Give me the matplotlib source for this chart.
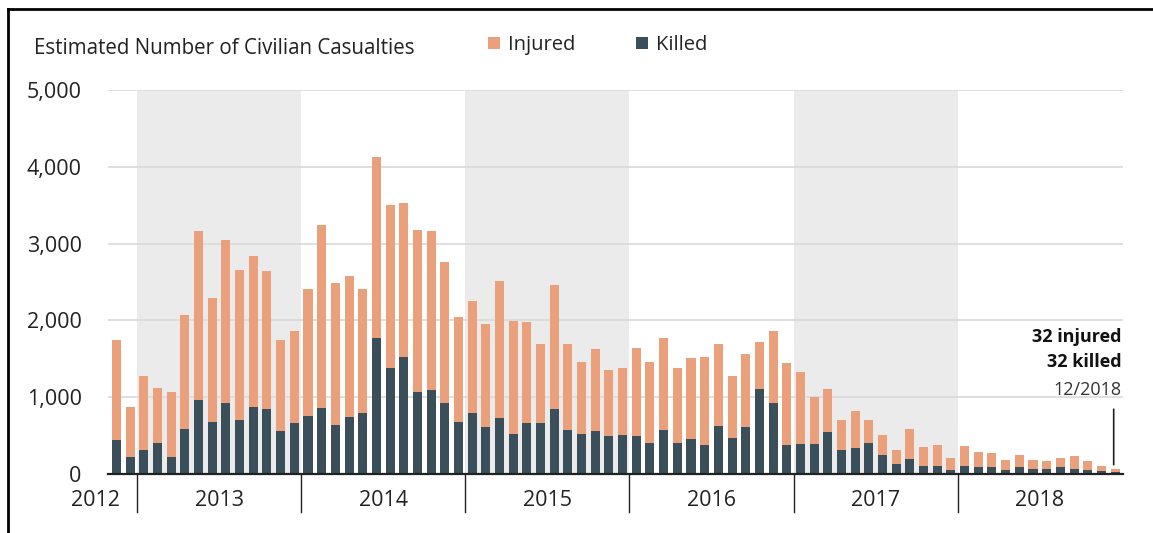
import numpy as np
import matplotlib
matplotlib.use('Agg')
import matplotlib.pyplot as plt
from matplotlib.lines import Line2D
import matplotlib.transforms as mtransforms

plt.rcParams['font.family'] = ['Open Sans', 'DejaVu Sans']

# monthly data, Nov 2012 .. Dec 2018
months = [('%02d/%d' % (m, y)) for y in range(2012, 2019) for m in range(1, 13)][10:]

total = [1740, 872,
         1276, 1124, 1072, 2075, 3160, 2292, 3042, 2660, 2843, 2643, 1740, 1858,
         2409, 3242, 2491, 2574, 2409, 4127, 3507, 3524, 3173, 3160, 2756, 2040,
         2257, 1957, 2509, 1992, 1975, 1693, 2456, 1693, 1458, 1623, 1358, 1376,
         1640, 1458, 1775, 1376, 1510, 1528, 1693, 1276, 1558, 1723, 1858, 1441,
         1328, 1007, 1107, 707, 825, 707, 508, 308, 590, 356, 373, 208,
         369, 286, 269, 187, 252, 187, 169, 204, 239, 169, 104, 64]
killed = [438, 221,
          308, 408, 221, 590, 959, 677, 924, 707, 872, 842, 560, 660,
          755, 859, 638, 742, 794, 1775, 1376, 1528, 1072, 1089, 924, 677,
          790, 608, 725, 525, 660, 660, 842, 573, 525, 560, 490, 508,
          490, 408, 573, 408, 456, 373, 625, 473, 608, 1107, 924, 373,
          391, 391, 543, 308, 343, 408, 243, 126, 191, 109, 109, 56,
          109, 87, 87, 52, 87, 69, 69, 87, 69, 52, 35, 32]
injured = [t - k for t, k in zip(total, killed)]

years = ['2013', '2014', '2015', '2016', '2017', '2018']
shaded_years = ['2013', '2015', '2017']
yticks = [0, 1000, 2000, 3000, 4000, 5000]

c_inj = '#E9A07B'
c_kill = '#3A4F5A'
txt = '#222222'

fig = plt.figure(figsize=(11.53, 5.33), dpi=100)
W, H = 1153, 533
ax = fig.add_axes([108 / W, (H - 474) / H, (1123 - 108) / W, (474 - 90) / H])

x = np.arange(len(months))
ax.bar(x, killed, width=0.66, color=c_kill, zorder=3, label='Killed')
ax.bar(x, injured, width=0.66, bottom=killed, color=c_inj, zorder=3, label='Injured')

# year positions: first year boundary after the two 2012 months
bounds = [1.5 + 12 * i for i in range(len(years) + 1)]
for i, yr in enumerate(years):
    if yr in shaded_years:
        ax.axvspan(bounds[i], bounds[i + 1], color='#EBEBEB', zorder=0, lw=0)

ax.set_xlim(-0.62, 73.58)
ax.set_ylim(0, 5000)
ax.set_yticks(yticks)
ax.set_yticklabels(['{:,}'.format(v) for v in yticks], fontsize=15.5, color=txt)
ax.tick_params(axis='y', length=0, pad=19)
ax.set_xticks([])
for v in yticks[1:]:
    ax.axhline(v, color='#D9D9D9', lw=1.2, zorder=1)
for s in ['top', 'right', 'left']:
    ax.spines[s].set_visible(False)
ax.spines['bottom'].set_color(txt)
ax.spines['bottom'].set_linewidth(1.6)
ax.spines['bottom'].set_zorder(4)

# year separators and labels below the axis
trans = mtransforms.blended_transform_factory(ax.transData, ax.transAxes)
for b in bounds[:-1]:
    ax.add_line(Line2D([b, b], [0, -0.1], transform=trans, color=txt,
                       lw=1, clip_on=False))
for i, yr in enumerate(years):
    ax.text((bounds[i] + bounds[i + 1]) / 2, -0.068, yr, transform=trans,
            ha='center', va='center', fontsize=15.5, color=txt)
ax.text(-1.56, -0.068, '2012', transform=trans, ha='center', va='center',
        fontsize=15.5, color=txt)

# annotation for last month
last = len(months) - 1
ax.annotate('', xy=(last - 0.1, total[-1] + 20), xytext=(last - 0.1, 880),
            arrowprops=dict(arrowstyle='-', color=txt, lw=1.2))
ax.text(73.5, 1790, '%d injured' % injured[-1], ha='right', va='center',
        fontsize=13, fontweight='bold', color='#111111')
ax.text(73.5, 1460, '%d killed' % killed[-1], ha='right', va='center',
        fontsize=13, fontweight='bold', color='#111111')
ax.text(73.5, 1100, months[-1], ha='right', va='center', fontsize=13,
        color='#333333')

fig.text(34 / W, 1 - 48 / H, 'Estimated Number of Civilian Casualties',
         ha='left', va='center', fontsize=14.8, color=txt)
h, l = ax.get_legend_handles_labels()
fig.legend(h[::-1], l[::-1], ncol=2, frameon=False, fontsize=14.5,
           loc='center left', bbox_to_anchor=(470 / W, 1 - 45 / H),
           handlelength=0.6, handleheight=0.6, handletextpad=0.4,
           columnspacing=3.0, labelcolor=txt)

# frame around the figure (top and left edges)
fig.add_artist(Line2D([8 / W, 1], [1 - 9 / H, 1 - 9 / H], color='black', lw=2))
fig.add_artist(Line2D([8 / W, 8 / W], [0, 1 - 9 / H], color='black', lw=2))

fig.savefig('out.png', dpi=100)
